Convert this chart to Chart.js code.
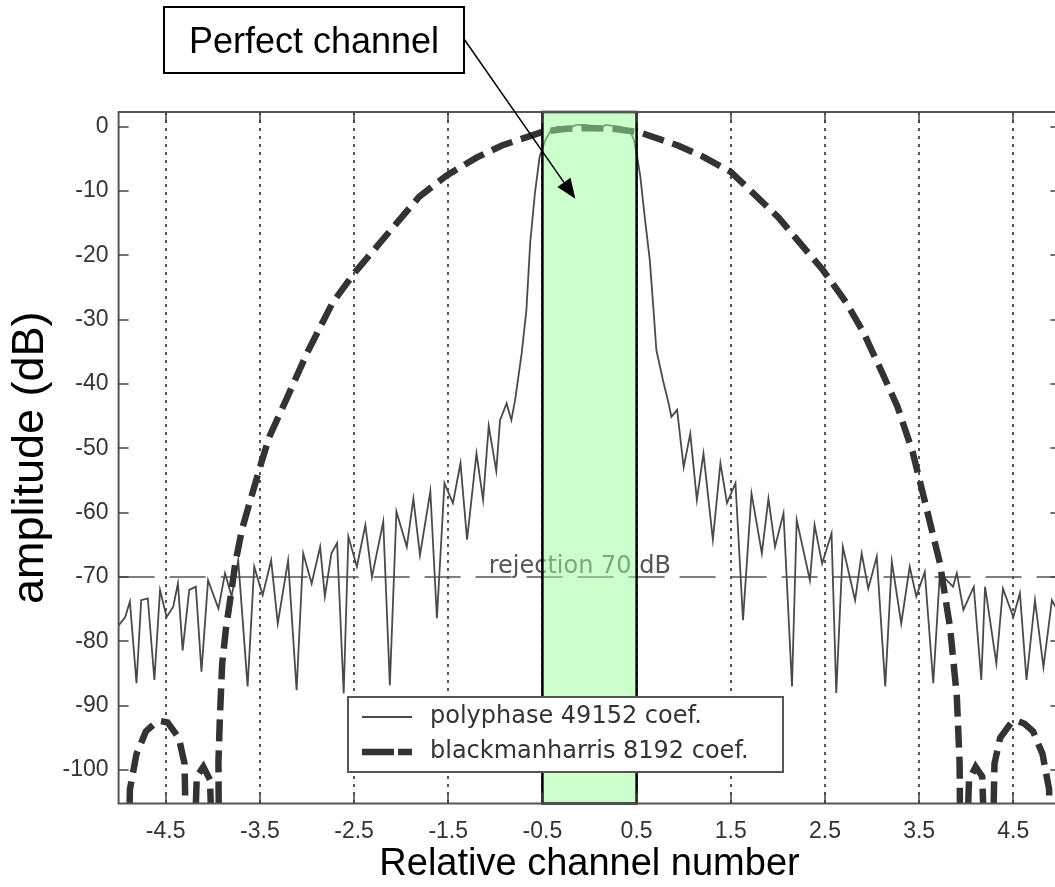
<!DOCTYPE html>
<html><head><meta charset="utf-8">
<script src="https://cdn.jsdelivr.net/npm/chart.js@4"></script>
<style>
html,body{margin:0;padding:0;background:#fff;overflow:hidden}
#wrap{width:1055px;height:887px;overflow:hidden;position:relative;background:#fff}
canvas{display:block}
</style>
</head><body><div id="wrap"><canvas id="c" width="1065" height="887" style="width:1065px;height:887px"></canvas></div>
<script>
// ---- data ----
const xTicks = [-4.5,-3.5,-2.5,-1.5,-0.5,0.5,1.5,2.5,3.5,4.5];
const yTicks = [0,-10,-20,-30,-40,-50,-60,-70,-80,-90,-100];
const seriesLabels = ['polyphase 49152 coef.', 'blackmanharris 8192 coef.'];
const rejectionLevel = -70;
const rejectionText = 'rejection 70 dB';
const rejectionTextPos = [-1.07, -69.4];
const channelBand = [-0.5, 0.5];
const annotationText = 'Perfect channel';
const annotationTarget = [-0.15, -11.2];

const polyX = [-5.0,-4.93,-4.88,-4.81,-4.76,-4.69,-4.62,-4.56,-4.49,-4.42,-4.37,-4.32,-4.25,-4.18,-4.12,-4.05,-3.94,-3.87,-3.80,-3.73,-3.63,-3.56,-3.47,-3.38,-3.31,-3.20,-3.11,-3.04,-2.95,-2.86,-2.81,-2.74,-2.68,-2.61,-2.56,-2.47,-2.38,-2.31,-2.19,-2.12,-2.05,-1.94,-1.87,-1.80,-1.69,-1.62,-1.54,-1.45,-1.37,-1.30,-1.20,-1.13,-1.07,-0.99,-0.95,-0.88,-0.83,-0.79,-0.72,-0.67,-0.63,-0.58,-0.53,-0.47,-0.40,-0.33,-0.24,-0.14,-0.03,0.08,0.17,0.33,0.43,0.47,0.50,0.54,0.59,0.64,0.68,0.71,0.78,0.84,0.87,0.93,1.00,1.07,1.14,1.21,1.31,1.39,1.46,1.55,1.63,1.72,1.83,1.90,1.97,2.06,2.15,2.20,2.34,2.39,2.47,2.57,2.62,2.69,2.82,2.89,2.96,3.05,3.14,3.21,3.31,3.40,3.47,3.56,3.65,3.72,3.86,3.90,3.97,4.08,4.16,4.20,4.32,4.39,4.50,4.57,4.64,4.73,4.82,4.91,5.0];
const polyY = [-77.5,-76.2,-73.8,-86.5,-73.6,-73.3,-86,-72,-76.2,-74.6,-71,-81.4,-72,-71.5,-84.7,-70.5,-74.9,-69.4,-73,-67.4,-87,-68.4,-72.8,-67.4,-77.2,-67.4,-87.6,-66.3,-71,-65.3,-73,-66.3,-64.7,-88.1,-63.7,-68.4,-61.9,-70,-61.4,-86.8,-59.8,-65.3,-57.8,-66.6,-56.7,-76.4,-55.4,-58.5,-52.3,-64.2,-50.8,-58,-46.5,-53.5,-45.6,-43,-45.6,-42.5,-35.2,-28.5,-18.1,-10.4,-4.7,-2.1,-0.3,0,-0.3,0.3,0.3,-0.6,0.3,0,-0.6,-2.0,-4.1,-7.8,-14.5,-20.7,-28.5,-34.7,-39.4,-43,-45.1,-44,-52.9,-47.7,-58,-50.8,-64.2,-52.3,-58.5,-55.4,-76.7,-57,-66.3,-57.8,-65.3,-60.1,-87,-61.1,-70.5,-61.9,-67.9,-63.2,-88,-65.3,-73.6,-66.3,-71.8,-66.8,-87,-67.6,-77.2,-68.4,-73,-69.2,-86.5,-69.4,-71.5,-69.4,-75.1,-71.5,-86,-71.5,-83.4,-71.8,-76.2,-72.5,-86,-73.6,-84,-73.6,-76];

const bhX = [-4.89,-4.88,-4.81,-4.71,-4.62,-4.55,-4.48,-4.36,-4.30,-4.285,null,-4.19,-4.17,-4.10,-4.03,-4.01,null,
  -3.935,-3.94,-3.925,-3.90,-3.86,-3.81,-3.76,-3.69,-3.59,-3.48,-3.40,-3.22,-3.0,-2.73,-2.5,-2.2,-1.81,-1.52,-1.2,-0.93,-0.5,-0.25,0,0.25,0.52,0.94,1.2,1.5,2.0,2.48,2.73,2.91,3.1,3.27,3.43,3.54,3.72,3.83,3.90,3.93,3.935,null,
  4.01,4.03,4.10,4.17,4.19,null,4.285,4.30,4.36,4.48,4.55,4.62,4.71,4.81,4.88,4.89];
const bhY = [-110,-103,-97.5,-94,-92.8,-92.4,-92.6,-95,-99,-110,null,-110,-101,-99.5,-101.5,-110,null,
  -110,-98.8,-92,-83.4,-78,-73,-67.8,-62.6,-57.5,-52,-48.2,-42.4,-35.2,-27.4,-22.8,-17.6,-10.9,-7.6,-4.8,-2.9,-0.8,-0.3,-0.2,-0.3,-0.8,-2.9,-4.6,-7,-14,-22.3,-27.4,-32,-38,-43.5,-50.5,-57,-67.8,-78,-88.5,-99,-110,null,
  -110,-101.5,-99.5,-101,-110,null,-110,-99,-95,-92.6,-92.4,-92.8,-94,-97.5,-103,-110];

// ---- helpers ----
const toPts = (xs, ys) => xs.map((v, i) => ({x: v === null ? NaN : v, y: ys[i]}));
const FONT = "'Liberation Sans', Arial, Helvetica, sans-serif";
const LFONT = "'DejaVu Sans', Verdana, sans-serif";
const BH_DASH = [22, 9];

const decor = {
  id: 'decor',
  beforeDatasetsDraw(chart) {
    const {ctx, chartArea: a, scales: {x}} = chart;
    ctx.save();
    ctx.strokeStyle = '#555';
    ctx.lineWidth = 2;
    ctx.setLineDash([3, 5]);
    xTicks.forEach(v => {
      const px = Math.round(x.getPixelForValue(v));
      ctx.beginPath(); ctx.moveTo(px, a.top); ctx.lineTo(px, a.bottom); ctx.stroke();
    });
    ctx.restore();
  },
  afterDatasetsDraw(chart) {
    const {ctx, chartArea: a, scales: {x, y}} = chart;
    ctx.save();
    // rejection label
    ctx.font = '24px ' + LFONT;
    ctx.fillStyle = '#555';
    ctx.textAlign = 'left'; ctx.textBaseline = 'alphabetic';
    ctx.fillText(rejectionText, x.getPixelForValue(rejectionTextPos[0]), y.getPixelForValue(rejectionTextPos[1]));
    // green channel band
    const bx0 = x.getPixelForValue(channelBand[0]), bx1 = x.getPixelForValue(channelBand[1]);
    ctx.fillStyle = 'rgba(153,255,153,0.5)';
    ctx.fillRect(bx0, a.top, bx1 - bx0, a.bottom - a.top);
    ctx.strokeStyle = '#000'; ctx.lineWidth = 2.5; ctx.setLineDash([]);
    ctx.strokeRect(bx0, a.top, bx1 - bx0, a.bottom - a.top);
    // frame
    ctx.strokeStyle = '#555'; ctx.lineWidth = 2;
    ctx.strokeRect(a.left, a.top, a.right - a.left, a.bottom - a.top);
    // inward ticks
    ctx.lineWidth = 1.5; ctx.strokeStyle = '#444';
    xTicks.forEach(v => {
      const px = Math.round(x.getPixelForValue(v));
      ctx.beginPath(); ctx.moveTo(px, a.bottom); ctx.lineTo(px, a.bottom - 11);
      ctx.moveTo(px, a.top); ctx.lineTo(px, a.top + 11); ctx.stroke();
    });
    yTicks.forEach(v => {
      const py = Math.round(y.getPixelForValue(v));
      ctx.beginPath(); ctx.moveTo(a.left, py); ctx.lineTo(a.left + 10, py);
      ctx.moveTo(a.right, py); ctx.lineTo(a.right - 10, py); ctx.stroke();
    });
    // legend
    const L = {x: 348, y: 697, w: 435, h: 75};
    ctx.fillStyle = '#fff'; ctx.fillRect(L.x, L.y, L.w, L.h);
    ctx.strokeStyle = '#555'; ctx.lineWidth = 2; ctx.strokeRect(L.x, L.y, L.w, L.h);
    const ds = chart.data.datasets;
    const rows = [{d: ds[0], yy: 717, dash: []}, {d: ds[1], yy: 752, dash: [32, 4]}];
    rows.forEach(r => {
      ctx.strokeStyle = r.d.borderColor;
      ctx.lineWidth = r.d.borderWidth;
      ctx.setLineDash(r.dash);
      ctx.beginPath(); ctx.moveTo(362, r.yy); ctx.lineTo(412, r.yy); ctx.stroke();
      ctx.setLineDash([]);
      ctx.fillStyle = '#333'; ctx.font = '24px ' + LFONT;
      ctx.textBaseline = 'middle'; ctx.textAlign = 'left';
      ctx.fillText(r.d.label, 430, r.yy);
    });
    ctx.restore();
  },
  afterDraw(chart) {
    const {ctx, scales: {x, y}} = chart;
    ctx.save();
    const B = {x: 164, y: 7, w: 300, h: 66};
    ctx.fillStyle = '#fff'; ctx.fillRect(B.x, B.y, B.w, B.h);
    ctx.strokeStyle = '#000'; ctx.lineWidth = 2; ctx.strokeRect(B.x, B.y, B.w, B.h);
    ctx.fillStyle = '#000'; ctx.font = '36px ' + FONT;
    ctx.textAlign = 'center'; ctx.textBaseline = 'middle';
    ctx.fillText(annotationText, B.x + B.w / 2, B.y + B.h / 2 + 3);
    const sx = B.x + B.w, sy = 39;
    const tx = x.getPixelForValue(annotationTarget[0]), ty = y.getPixelForValue(annotationTarget[1]);
    const ang = Math.atan2(ty - sy, tx - sx);
    const hl = 20, hw = 8;
    const bx = tx - hl * Math.cos(ang), by = ty - hl * Math.sin(ang);
    ctx.lineWidth = 1.5;
    ctx.beginPath(); ctx.moveTo(sx, sy); ctx.lineTo(bx, by); ctx.stroke();
    ctx.beginPath();
    ctx.moveTo(tx, ty);
    ctx.lineTo(bx + hw * Math.sin(ang), by - hw * Math.cos(ang));
    ctx.lineTo(bx - hw * Math.sin(ang), by + hw * Math.cos(ang));
    ctx.closePath(); ctx.fill();
    ctx.restore();
  }
};

new Chart(document.getElementById('c'), {
  type: 'scatter',
  data: {
    datasets: [
      {label: seriesLabels[0], data: toPts(polyX, polyY), showLine: true, borderColor: '#4a4a4a', borderWidth: 1.8, pointRadius: 0, tension: 0, clip: 0, order: 1},
      {label: seriesLabels[1], data: toPts(bhX, bhY), showLine: true, borderColor: '#333', borderWidth: 6.5, borderDash: BH_DASH, pointRadius: 0, tension: 0, clip: 0, spanGaps: false, order: 0},
      {label: 'rejection', data: [{x: -5, y: rejectionLevel}, {x: 5, y: rejectionLevel}], showLine: true, borderColor: '#555', borderWidth: 1.5, borderDash: [36, 15], pointRadius: 0, clip: 0, order: 2}
    ]
  },
  options: {
    responsive: false,
    animation: false,
    devicePixelRatio: 1,
    layout: {padding: {top: 112, right: 4.6, bottom: 0, left: 0}},
    plugins: {legend: {display: false}, tooltip: {enabled: false}},
    scales: {
      x: {
        type: 'linear', min: -5, max: 5,
        afterBuildTicks: s => { s.ticks = xTicks.map(v => ({value: v})); },
        afterFit: s => { s.height = 83.5; },
        grid: {display: false, drawTicks: false},
        border: {display: false},
        ticks: {padding: 14, color: '#333', font: {family: FONT, size: 23}, maxRotation: 0, autoSkip: false, callback: v => String(v)},
        title: {display: true, text: 'Relative channel number', color: '#000', font: {family: FONT, size: 38}, padding: {top: 0, bottom: 0}}
      },
      y: {
        type: 'linear', min: -105.2, max: 2.3,
        afterBuildTicks: s => { s.ticks = yTicks.map(v => ({value: v})); },
        afterFit: s => { s.width = 118.6; },
        grid: {display: false, drawTicks: false},
        border: {display: false},
        ticks: {padding: 10, color: '#333', font: {family: FONT, size: 23}, autoSkip: false, callback: v => String(v)},
        title: {display: true, text: 'amplitude (dB)', color: '#000', font: {family: FONT, size: 45}, padding: {top: 4, bottom: 0}}
      }
    }
  },
  plugins: [decor]
});
</script>
</body></html>
